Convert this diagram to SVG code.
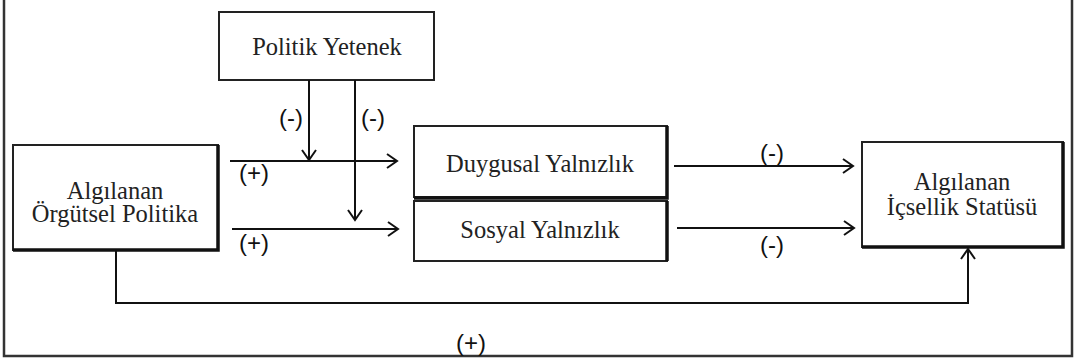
<svg xmlns="http://www.w3.org/2000/svg" width="1075" height="362" viewBox="0 0 1075 362">
<defs>
<marker id="arr" markerUnits="userSpaceOnUse" markerWidth="16" markerHeight="16" refX="13" refY="8" orient="auto">
<path d="M3,1 L13,8 L3,15" fill="none" stroke="#111" stroke-width="2"/>
</marker>
<style>
.box{fill:#fff;stroke:#222;stroke-width:2}
.sh{fill:none;stroke:#111;stroke-width:3.5}
.t{font-family:'Liberation Serif','Times New Roman',serif;font-size:24.5px;fill:#222;text-anchor:middle}
.lbl{font-family:'Liberation Sans',Arial,sans-serif;font-size:24px;fill:#111;text-anchor:middle}
.ln{fill:none;stroke:#111;stroke-width:2}
</style>
</defs>
<rect width="1075" height="362" fill="#fff"/>
<path d="M4,0 V356 H1072 V0" fill="none" stroke="#333" stroke-width="2.5"/>
<g id="politik-yetenek">
<rect class="box" x="219" y="12" width="215" height="68"/>
<text class="t" x="327" y="55">Politik Yetenek</text>
</g>
<g id="algilanan-orgutsel-politika">
<rect class="box" x="13" y="145" width="205" height="105"/>
<path class="sh" d="M218,145 V250 H13"/>
<text class="t" x="115" y="199">Algılanan</text>
<text class="t" x="115" y="222">Örgütsel Politika</text>
</g>
<g id="duygusal-yalnizlik">
<rect class="box" x="414" y="126" width="253" height="71"/>
<path class="sh" d="M667,126 V198 H414"/>
<text class="t" x="540" y="172">Duygusal Yalnızlık</text>
</g>
<g id="sosyal-yalnizlik">
<rect class="box" x="414" y="201" width="253" height="60"/>
<path class="sh" d="M667,201 V261"/>
<text class="t" x="540" y="238">Sosyal Yalnızlık</text>
</g>
<g id="algilanan-icsellik-statusu">
<rect class="box" x="862" y="142" width="201" height="105"/>
<path class="sh" d="M1063,142 V247 H862"/>
<text class="t" x="962" y="190">Algılanan</text>
<text class="t" x="962" y="215">İçsellik Statüsü</text>
</g>
<g id="connectors">
<path class="ln" d="M309,80 V160" marker-end="url(#arr)"/>
<path class="ln" d="M355,80 V220" marker-end="url(#arr)"/>
<path class="ln" d="M230,161 H397" marker-end="url(#arr)"/>
<path class="ln" d="M232,229 H398" marker-end="url(#arr)"/>
<path class="ln" d="M674,166 H853" stroke-width="3.2" marker-end="url(#arr)"/>
<path class="ln" d="M677,228 H854" stroke-width="1.5" marker-end="url(#arr)"/>
<path class="ln" d="M116,250 V303 H968 V249" marker-end="url(#arr)"/>
</g>
<g id="labels">
<text class="lbl" x="291" y="126">(-)</text>
<text class="lbl" x="373" y="126">(-)</text>
<text class="lbl" x="254" y="181">(+)</text>
<text class="lbl" x="254" y="251">(+)</text>
<text class="lbl" x="772" y="161">(-)</text>
<text class="lbl" x="772" y="253">(-)</text>
<text class="lbl" x="471" y="351">(+)</text>
</g>
</svg>
